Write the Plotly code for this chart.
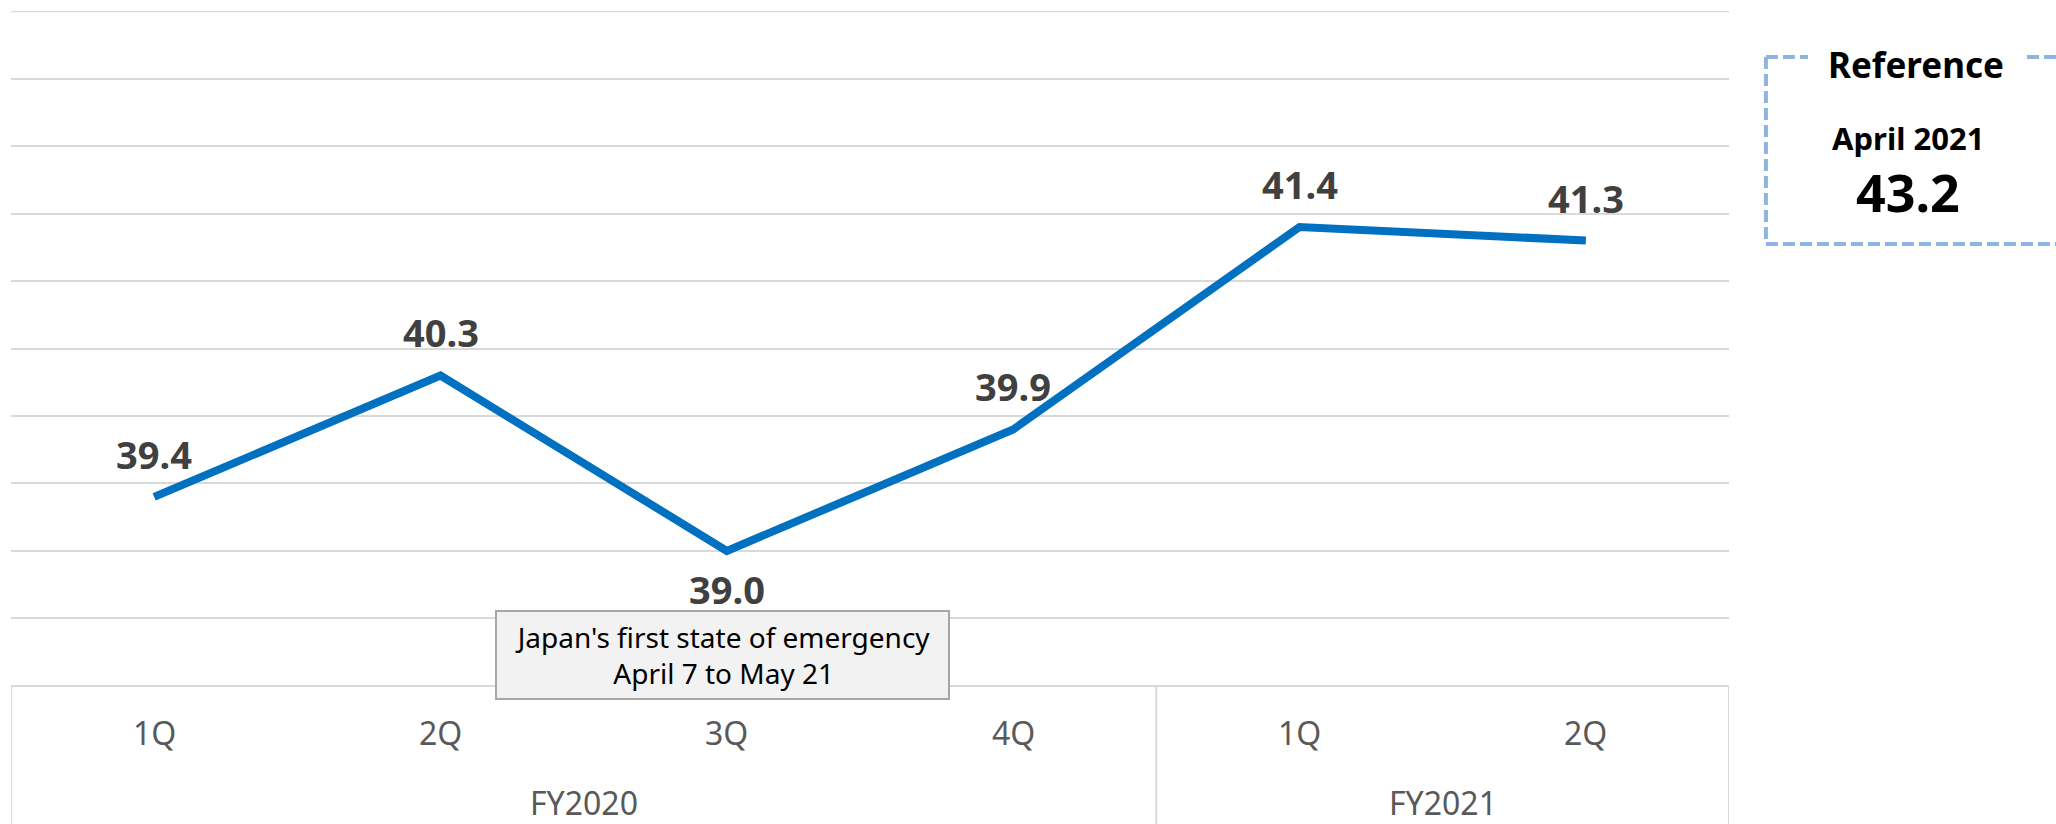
import plotly.graph_objects as go

# ---- data ----
quarters = ["1Q", "2Q", "3Q", "4Q", "1Q", "2Q"]
fiscal_years = ["FY2020", "FY2021"]
fy_quarter_counts = [4, 2]
values = [39.4, 40.3, 39.0, 39.9, 41.4, 41.3]
label_below = [False, False, True, False, False, False]
ref_title = "Reference"
ref_period = "April 2021"
ref_value = 43.2
event_note = "Japan's first state of emergency<br>April 7 to May 21"

x_idx = list(range(len(values)))

FONT = "Noto Sans, Open Sans, DejaVu Sans, sans-serif"
GRID = "#D9D9D9"
BLUE = "#0070C0"
LBL = "#404040"
CAT = "#595959"
REF = "#8DB4E2"

fig = go.Figure()
fig.add_trace(go.Scatter(
    x=x_idx, y=values, mode="lines",
    line=dict(color=BLUE, width=8, shape="linear"),
    hoverinfo="skip", showlegend=False,
))

annotations = []
# data labels
for i, v in enumerate(values):
    annotations.append(dict(
        x=i, y=v, xref="x", yref="y", text=f"{v:.1f}", showarrow=False,
        yshift=-38 if label_below[i] else 43, xanchor="center", yanchor="middle",
        font=dict(family=FONT, size=38, color=LBL, weight="bold"),
    ))
# quarter labels
for i, q in enumerate(quarters):
    annotations.append(dict(
        x=i, y=-0.0696, xref="x", yref="paper", text=q, showarrow=False,
        xanchor="center", yanchor="middle",
        font=dict(family=FONT, size=32, color=CAT),
    ))
# fiscal year labels + dividers
shapes = []
start = 0
bounds = [-0.5]
for fy, n in zip(fiscal_years, fy_quarter_counts):
    center = start + (n - 1) / 2
    annotations.append(dict(
        x=center, y=-0.1733, xref="x", yref="paper", text=fy, showarrow=False,
        xanchor="center", yanchor="middle",
        font=dict(family=FONT, size=32, color=CAT),
    ))
    start += n
    bounds.append(start - 0.5)
for b in bounds:
    shapes.append(dict(type="line", xref="x", yref="paper", x0=b, x1=b,
                       y0=0, y1=-0.3, line=dict(color=GRID, width=2)))
shapes.append(dict(type="line", xref="paper", yref="paper", x0=0, x1=1,
                   y0=0, y1=0, line=dict(color=GRID, width=2)))
# top gridline (at the range top)
shapes.append(dict(type="line", xref="paper", yref="y", x0=0, x1=1,
                   y0=43, y1=43, line=dict(color=GRID, width=2), layer="below"))

# event note box
annotations.append(dict(
    x=0.4142, y=0.0452, xref="paper", yref="paper", text=event_note,
    showarrow=False, xanchor="center", yanchor="middle",
    width=451, height=86, borderpad=0, borderwidth=2,
    bgcolor="#F2F2F2", bordercolor="#A6A6A6", align="center",
    font=dict(family=FONT, size=28, color="#000000"),
))

# reference box (dashed, open at top for title)
dash = "12px,5px"
rl, rr, rt, rb = 1.0215, 1.196, 0.9319, 0.6548
for (x0, y0, x1, y1) in [(rl, rt, 1.046, rt), (1.1735, rt, rr, rt),
                         (rl, rt, rl, rb), (rl, rb, rr, rb)]:
    shapes.append(dict(type="line", xref="paper", yref="paper",
                       x0=x0, y0=y0, x1=x1, y1=y1,
                       line=dict(color=REF, width=4, dash=dash)))
annotations.append(dict(x=1.1088, y=0.92, xref="paper", yref="paper", text=ref_title,
                        showarrow=False, xanchor="center", yanchor="middle",
                        font=dict(family=FONT, size=35, color="#000000", weight="bold")))
annotations.append(dict(x=1.1042, y=0.8119, xref="paper", yref="paper", text=ref_period,
                        showarrow=False, xanchor="center", yanchor="middle",
                        font=dict(family=FONT, size=31, color="#000000", weight="bold")))
annotations.append(dict(x=1.1042, y=0.7333, xref="paper", yref="paper", text=f"{ref_value:.1f}",
                        showarrow=False, xanchor="center", yanchor="middle",
                        font=dict(family=FONT, size=52, color="#000000", weight="bold")))

fig.update_layout(
    width=2056, height=824,
    margin=dict(l=11, r=327, t=11, b=138, pad=0),
    paper_bgcolor="white", plot_bgcolor="white",
    showlegend=False,
    xaxis=dict(range=[-0.5, 5.5], showgrid=False, showticklabels=False,
               zeroline=False, showline=False, ticks=""),
    yaxis=dict(range=[37.999, 43.001], tick0=38, dtick=0.5, showgrid=True,
               gridcolor=GRID, gridwidth=2, showticklabels=False,
               zeroline=False, showline=False, ticks=""),
    annotations=annotations,
    shapes=shapes,
)

fig.write_html("out.html")
